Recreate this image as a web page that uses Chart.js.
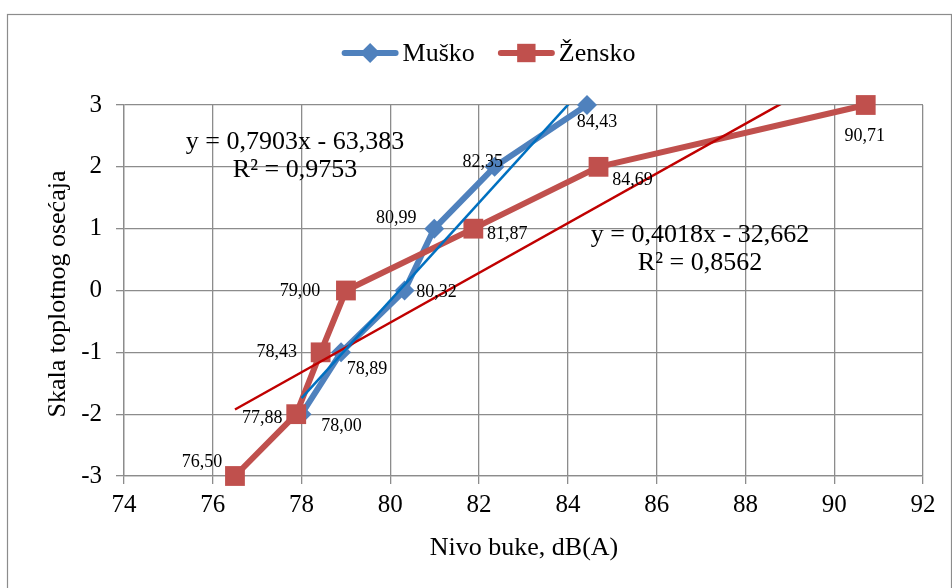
<!DOCTYPE html>
<html>
<head>
<meta charset="utf-8">
<script src="https://cdn.jsdelivr.net/npm/chart.js@4.4.1/dist/chart.umd.min.js"></script>
<style>
  html, body { margin: 0; padding: 0; background: #fff; }
</style>
</head>
<body>
<canvas id="myChart" width="952" height="588"></canvas>
<script>
// data
const seriesNames = ['Muško', 'Žensko'];
const muskoX = [78.00, 78.89, 80.32, 80.99, 82.35, 84.43];
const muskoY = [-2, -1, 0, 1, 2, 3];
const zenskoX = [76.50, 77.88, 78.43, 79.00, 81.87, 84.69, 90.71];
const zenskoY = [-3, -2, -1, 0, 1, 2, 3];
const xTickLabels = [74, 76, 78, 80, 82, 84, 86, 88, 90, 92];
const yTickLabels = [-3, -2, -1, 0, 1, 2, 3];
// linear trendlines (Excel)
const trendSlopes = [0.7903, 0.4018];
const trendIntercepts = [-63.383, -32.662];
const trendR2 = [0.9753, 0.8562];

// label placement like in the excel sheet (pixel offsets from the point)
const muskoLabelDx = [40, 26, 32, -38, -12, 10];
const muskoLabelDy = [12, 17, 2, -10, -5, 17];
const zenskoLabelDx = [-33, -34, -44, -46, 34, 34, -1];
const zenskoLabelDy = [-14, 4, 0, 1, 6, 13, 31];

const serif = '"Times New Roman", "Liberation Serif", serif';
const gridGray = '#8c8c8c';
const blue = '#4F81BD';
const red = '#C0504D';

function comma(v, d) {
  return v.toFixed(d).replace('.', ',');
}

function toPoints(xs, ys) {
  return xs.map(function (x, i) { return { x: x, y: ys[i] }; });
}

function trendPoints(xs, k) {
  let lo = Math.min.apply(null, xs);
  let hi = Math.max.apply(null, xs);
  return [
    { x: lo, y: trendSlopes[k] * lo + trendIntercepts[k] },
    { x: hi, y: trendSlopes[k] * hi + trendIntercepts[k] }
  ];
}

const decor = {
  id: 'decor',
  beforeDraw: function (chart) {
    const ctx = chart.ctx;
    ctx.save();
    ctx.fillStyle = '#fff';
    ctx.fillRect(0, 0, chart.width, chart.height);
    ctx.strokeStyle = gridGray;
    ctx.lineWidth = 1.2;
    ctx.strokeRect(7.5, 14.5, 944, 620);
    ctx.restore();
  },
  afterDraw: function (chart) {
    const ctx = chart.ctx;
    const xs = chart.scales.x;
    const ys = chart.scales.y;
    ctx.save();
    ctx.fillStyle = '#000';
    ctx.textBaseline = 'middle';

    // legend
    ctx.font = '26px ' + serif;
    const items = [
      { name: seriesNames[0], color: blue, style: 'rectRot', r: 10 },
      { name: seriesNames[1], color: red, style: 'rect', r: 13 }
    ];
    const lineLen = 55, gapText = 5, gapItem = 24;
    let total = 0;
    items.forEach(function (it, i) {
      it.w = lineLen + gapText + ctx.measureText(it.name).width;
      total += it.w + (i ? gapItem : 0);
    });
    let lx = 489 - total / 2;
    const ly = 53;
    items.forEach(function (it) {
      ctx.strokeStyle = it.color;
      ctx.lineWidth = 6;
      ctx.lineCap = 'round';
      ctx.beginPath();
      ctx.moveTo(lx + 2, ly);
      ctx.lineTo(lx + lineLen - 2, ly);
      ctx.stroke();
      ctx.fillStyle = it.color;
      Chart.helpers.drawPoint(ctx, { pointStyle: it.style, radius: it.r, borderWidth: 0 }, lx + lineLen / 2, ly);
      ctx.fillStyle = '#000';
      ctx.textAlign = 'left';
      ctx.fillText(it.name, lx + lineLen + gapText, ly + 1);
      lx += it.w + gapItem;
    });

    // axis titles
    ctx.textAlign = 'center';
    ctx.fillText('Nivo buke, dB(A)', 524, 548);
    ctx.save();
    ctx.translate(58, 294);
    ctx.rotate(-Math.PI / 2);
    ctx.fillText('Skala toplotnog osećaja', 0, 0);
    ctx.restore();

    // trendline equations
    ctx.font = '26px ' + serif;
    ctx.fillText('y = ' + comma(trendSlopes[0], 4) + 'x - ' + comma(-trendIntercepts[0], 3), 295, 142);
    ctx.fillText('R² = ' + comma(trendR2[0], 4), 295, 170);
    ctx.fillText('y = ' + comma(trendSlopes[1], 4) + 'x - ' + comma(-trendIntercepts[1], 3), 700, 235);
    ctx.fillText('R² = ' + comma(trendR2[1], 4), 700, 263);

    // data labels
    ctx.font = '18px ' + serif;
    muskoX.forEach(function (x, i) {
      ctx.fillText(comma(x, 2), xs.getPixelForValue(x) + muskoLabelDx[i], ys.getPixelForValue(muskoY[i]) + muskoLabelDy[i]);
    });
    zenskoX.forEach(function (x, i) {
      ctx.fillText(comma(x, 2), xs.getPixelForValue(x) + zenskoLabelDx[i], ys.getPixelForValue(zenskoY[i]) + zenskoLabelDy[i]);
    });
    ctx.restore();
  }
};

const config = {
  type: 'line',
  data: {
    datasets: [
      {
        label: 'trend ' + seriesNames[0],
        data: trendPoints(muskoX, 0),
        borderColor: '#0070C0',
        borderWidth: 2.5,
        pointRadius: 0,
        clip: 0,
        order: 0
      },
      {
        label: 'trend ' + seriesNames[1],
        data: trendPoints(zenskoX, 1),
        borderColor: '#C00000',
        borderWidth: 2.5,
        pointRadius: 0,
        clip: 0,
        order: 0
      },
      {
        label: seriesNames[1],
        data: toPoints(zenskoX, zenskoY),
        borderColor: red,
        backgroundColor: red,
        borderWidth: 6,
        borderJoinStyle: 'round',
        pointStyle: 'rect',
        pointRadius: 14,
        pointBorderWidth: 0,
        pointBackgroundColor: red,
        clip: false,
        order: 1
      },
      {
        label: seriesNames[0],
        data: toPoints(muskoX, muskoY),
        borderColor: blue,
        backgroundColor: blue,
        borderWidth: 6,
        borderJoinStyle: 'round',
        pointStyle: 'rectRot',
        pointRadius: 10,
        pointBorderWidth: 0,
        pointBackgroundColor: blue,
        clip: false,
        order: 2
      }
    ]
  },
  options: {
    responsive: false,
    animation: false,
    events: [],
    layout: { padding: { left: 8, top: 105, right: 29, bottom: 56 } },
    plugins: { legend: { display: false }, tooltip: { enabled: false } },
    scales: {
      x: {
        type: 'linear',
        min: xTickLabels[0],
        max: xTickLabels[xTickLabels.length - 1],
        afterFit: function (s) { s.height = 56; },
        afterBuildTicks: function (s) { s.ticks = xTickLabels.map(function (v) { return { value: v }; }); },
        ticks: { color: '#000', font: { family: serif, size: 25 }, padding: 6, maxRotation: 0 },
        grid: { color: gridGray, lineWidth: 1.3, tickLength: 8, tickColor: gridGray },
        border: { color: gridGray, width: 1.3 }
      },
      y: {
        min: yTickLabels[0],
        max: yTickLabels[yTickLabels.length - 1],
        afterFit: function (s) { s.width = 116; },
        afterBuildTicks: function (s) { s.ticks = yTickLabels.map(function (v) { return { value: v }; }); },
        ticks: { color: '#000', font: { family: serif, size: 25 }, padding: 14 },
        grid: { color: gridGray, lineWidth: 1.3, tickLength: 8, tickColor: gridGray },
        border: { color: gridGray, width: 1.3 }
      }
    }
  },
  plugins: [decor]
};

const myChart = new Chart(document.getElementById('myChart'), config);
</script>
</body>
</html>
